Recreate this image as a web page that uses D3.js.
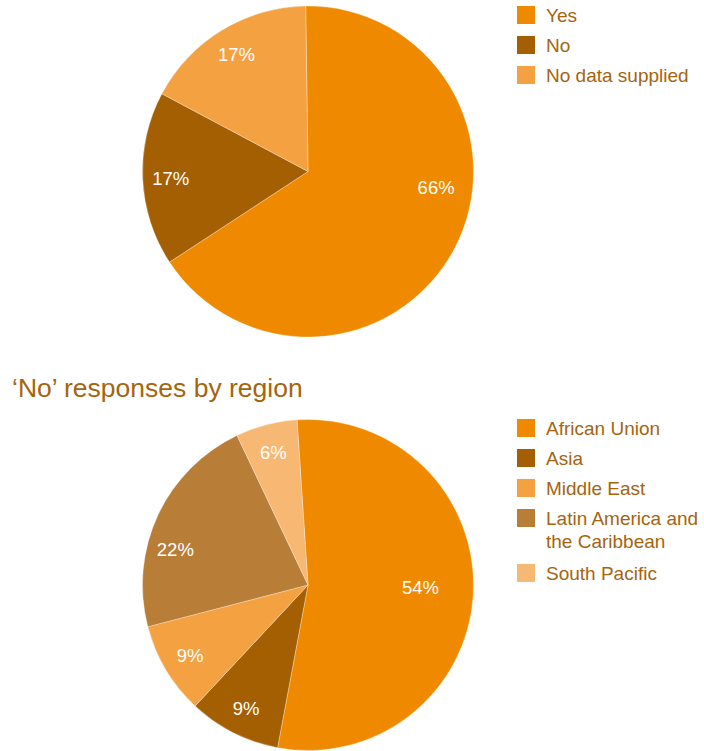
<!DOCTYPE html>
<html>
<head>
<meta charset="utf-8">
<script src="https://cdn.jsdelivr.net/npm/d3@7"></script>
<style>
  html, body { margin: 0; padding: 0; background: #ffffff; }
  svg { display: block; font-family: "Liberation Sans", Arial, Helvetica, sans-serif; }
</style>
</head>
<body>
<svg id="chart" width="704" height="751"></svg>
<script>
// Overall responses
const responseCategories = ["Yes", "No", "No data supplied"];
const responseValues = [66, 17, 17];
const responseColors = ["#EF8A00", "#A55F03", "#F3A141"];

// 'No' responses broken down by region
const regionCategories = ["African Union", "Asia", "Middle East", "Latin America and the Caribbean", "South Pacific"];
const regionLegendLines = [["African Union"], ["Asia"], ["Middle East"], ["Latin America and", "the Caribbean"], ["South Pacific"]];
const regionValues = [54, 9, 9, 22, 6];
const regionColors = ["#EF8A00", "#A55F03", "#F3A141", "#B87D36", "#F6B873"];

const regionTitle = "\u2018No\u2019 responses by region";
const textColor = "#A6640F";

const svg = d3.select("#chart");

function drawPie(opts) {
  const { values, colors, cx, cy, r, rotate, bigLabelR } = opts;
  const total = d3.sum(values);
  const rot = rotate * Math.PI / 180;
  const pie = d3.pie().sort(null).value(d => d)
    .startAngle(rot).endAngle(rot + 2 * Math.PI);
  const arcs = pie(values);
  const arc = d3.arc().innerRadius(0).outerRadius(r);
  const g = svg.append("g").attr("transform", `translate(${cx},${cy})`);

  g.selectAll("path").data(arcs).join("path")
    .attr("d", arc)
    .attr("fill", (d, i) => colors[i])
    .attr("stroke", "#ffffff")
    .attr("stroke-opacity", 0.5)
    .attr("stroke-width", 0.6);

  g.selectAll("text").data(arcs).join("text")
    .attr("transform", d => {
      const mid = (d.startAngle + d.endAngle) / 2;
      const frac = d.value / total;
      let a = mid, lr = r * 0.83;
      if (frac > 0.5) {
        // large slice: label pulled toward the horizontal, further inside
        a = Math.PI / 2 + (mid - Math.PI / 2) * 0.25;
        lr = r * bigLabelR;
      } else if (frac > 0.2) {
        // mid-sized slice: label eased toward the horizontal
        a = mid + (1.5 * Math.PI - mid) * 0.4;
      }
      return `translate(${lr * Math.sin(a)},${-lr * Math.cos(a)})`;
    })
    .attr("text-anchor", "middle")
    .attr("dy", "0.38em")
    .attr("fill", "#ffffff")
    .attr("font-size", 18.5)
    .text(d => d.value + "%");
}

function drawLegend(opts) {
  const { lines, colors, x, y0, positions } = opts;
  const g = svg.append("g");
  lines.forEach((ls, i) => {
    const y = y0 + positions[i];
    g.append("rect")
      .attr("x", x).attr("y", y - 9)
      .attr("width", 18).attr("height", 18)
      .attr("fill", colors[i]);
    const t = g.append("text")
      .attr("x", x + 29).attr("y", y)
      .attr("fill", textColor)
      .attr("font-size", 19);
    ls.forEach((line, j) => {
      t.append("tspan")
        .attr("x", x + 29)
        .attr("dy", j === 0 ? "0.36em" : 23)
        .text(line);
    });
  });
}

// Top pie: overall answers
drawPie({ values: responseValues, colors: responseColors, cx: 308, cy: 171.5, r: 165.5, rotate: -0.8, bigLabelR: 0.78 });
drawLegend({ lines: responseCategories.map(c => [c]), colors: responseColors, x: 517, y0: 15, positions: [0, 30, 60] });

// Section title
svg.append("text")
  .attr("x", 12).attr("y", 397)
  .attr("fill", textColor)
  .attr("font-size", 26.5)
  .text(regionTitle);

// Bottom pie: 'No' answers by region
drawPie({ values: regionValues, colors: regionColors, cx: 308, cy: 585, r: 165.5, rotate: -3.8, bigLabelR: 0.68 });
drawLegend({ lines: regionLegendLines, colors: regionColors, x: 517, y0: 428, positions: [0, 30, 60, 90, 145] });
</script>
</body>
</html>
